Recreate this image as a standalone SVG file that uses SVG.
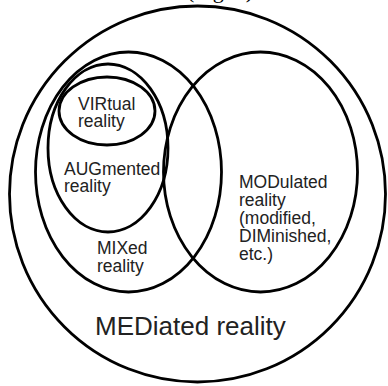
<svg xmlns="http://www.w3.org/2000/svg" width="388" height="386" viewBox="0 0 388 386">
<style>
.ring{fill:none;stroke:#000;stroke-width:2.8}
.lbl{font-family:"Liberation Sans",Arial,sans-serif;font-size:17.5px;fill:#222}
.big{font-family:"Liberation Sans",Arial,sans-serif;font-size:26px;fill:#222}
.cap{font-family:"Liberation Serif","Times New Roman",serif;font-size:22px;fill:#000}
</style>
<rect width="388" height="386" fill="#fff"/>
<text class="cap" x="187" y="-2">(Fig. 1)</text>
<g id="mediated">
<circle class="ring" cx="197.5" cy="194" r="188"/>
<text class="big" x="95" y="335">MEDiated reality</text>
</g>
<g id="mixed">
<ellipse class="ring" cx="128.5" cy="172" rx="93" ry="120"/>
<text class="lbl" x="97" y="254">MIXed<tspan x="97" dy="18">reality</tspan></text>
</g>
<g id="modulated">
<ellipse class="ring" cx="260.5" cy="172" rx="97" ry="120"/>
<text class="lbl" x="239" y="188">MODulated<tspan x="239" dy="18">reality</tspan><tspan x="239" dy="18">(modified,</tspan><tspan x="239" dy="18">DIMinished,</tspan><tspan x="239" dy="18">etc.)</tspan></text>
</g>
<g id="augmented">
<ellipse class="ring" cx="108" cy="148" rx="60" ry="84"/>
<text class="lbl" x="64" y="175">AUGmented<tspan x="64" dy="17">reality</tspan></text>
</g>
<g id="virtual">
<ellipse class="ring" cx="107" cy="111" rx="48" ry="34"/>
<text class="lbl" x="78" y="110">VIRtual<tspan x="78" dy="17">reality</tspan></text>
</g>
</svg>
